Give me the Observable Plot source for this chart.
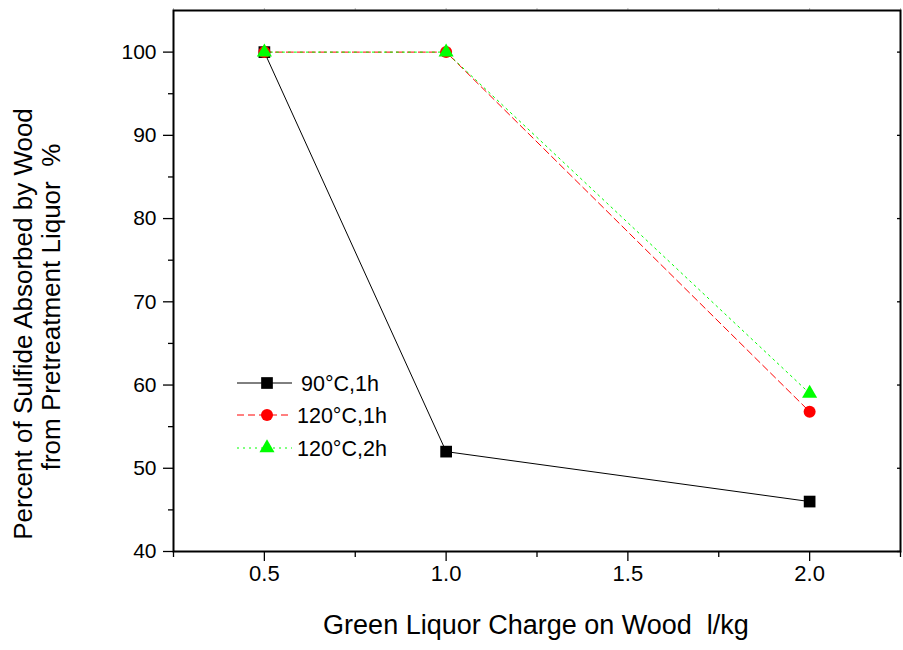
<!DOCTYPE html>
<html><head><meta charset="utf-8">
<script src="https://cdn.jsdelivr.net/npm/d3@7"></script>
<script src="https://cdn.jsdelivr.net/npm/@observablehq/plot@0.6"></script>
<style>
body{margin:0;background:#fff;font-family:"Liberation Sans",Arial,sans-serif}
#chart{position:relative;width:903px;height:650px}
</style>
</head><body><div id="chart"></div>
<script>
const charge = [0.5, 1.0, 2.0];
const s90_1h = [100, 52, 46];
const s120_1h = [100, 100, 56.8];
const s120_2h = [100, 100, 59];
const seriesNames = ["90°C,1h", "120°C,1h", "120°C,2h"];
const seriesColors = ["#000000", "#ff0000", "#00ff00"];
const seriesSymbols = ["square", "circle", "triangle"];
const seriesDash = [null, "7,4", "2,4"];
const xTicks = [0.5, 1.0, 1.5, 2.0];
const xMinor = [0.25, 0.75, 1.25, 1.75, 2.25];
const yTicks = [40, 50, 60, 70, 80, 90, 100];
const yMinor = [45, 55, 65, 75, 85, 95];
const xTitle = "Green Liquor Charge on Wood  l/kg";
const yTitle1 = "Percent of Sulfide Absorbed by Wood";
const yTitle2 = "from Pretreatment Liquor  %";

const seriesValues = [s90_1h, s120_1h, s120_2h];
const series = seriesNames.map((name, k) => charge.map((x, i) => ({x, y: seriesValues[k][i], s: name})));
const symR = [6.6, 6, 5.6];

const marks = [];
series.forEach((rows, k) => {
  marks.push(Plot.line(rows, {x: "x", y: "y", stroke: seriesColors[k], strokeWidth: 1, strokeDasharray: seriesDash[k]}));
});
series.forEach((rows, k) => {
  marks.push(Plot.dot(rows, {x: "x", y: "y", symbol: () => seriesSymbols[k], r: symR[k], fill: seriesColors[k], stroke: "none"}));
});

const chart = Plot.plot({
  width: 903, height: 650,
  marginLeft: 173, marginRight: 3, marginTop: 10, marginBottom: 99,
  style: {fontFamily: "'Liberation Sans', Arial, sans-serif", background: "white", color: "black"},
  symbol: {type: "identity"},
  x: {domain: [0.25, 2.25], label: null},
  y: {domain: [40, 105], label: null},
  marks: [
    Plot.axisX(xTicks, {tickSize: 10, tickFormat: () => "", strokeWidth: 1.3, label: null}),
    Plot.text(xTicks, {x: d => d, frameAnchor: "bottom", dy: 29, fontSize: 22, text: d => d.toFixed(1), fill: "black"}),
    Plot.axisX(xMinor, {tickSize: 6, tickFormat: () => "", strokeWidth: 1.3, label: null}),
    Plot.axisX(xTicks.concat(xMinor), {anchor: "top", tickSize: 3, tickFormat: () => "", stroke: "#bbb", label: null}),
    Plot.axisY(yTicks, {tickSize: 10, tickFormat: () => "", strokeWidth: 1.3, label: null}),
    Plot.text(yTicks, {y: d => d, frameAnchor: "left", dx: -17, textAnchor: "end", fontSize: 21, text: d => String(d), fill: "black"}),
    Plot.axisY(yMinor, {tickSize: 5, tickFormat: () => "", strokeWidth: 1.3, label: null}),
    Plot.axisY(yTicks, {anchor: "right", tickSize: -4, tickFormat: () => "", strokeWidth: 1.3, label: null}),
    ...marks,
    Plot.frame({stroke: "black", strokeWidth: 2})
  ]
});
document.getElementById("chart").appendChild(chart);

const svg = d3.select(chart);
svg.append("text").attr("x", 536).attr("y", 634).attr("text-anchor", "middle")
  .attr("font-size", 27).attr("fill", "black").text(xTitle);
svg.append("text").attr("transform", "translate(32,324) rotate(-90)").attr("text-anchor", "middle")
  .attr("font-size", 26).attr("fill", "black").text(yTitle1);
svg.append("text").attr("transform", "translate(60,307) rotate(-90)").attr("text-anchor", "middle")
  .attr("font-size", 26).attr("fill", "black").attr("xml:space", "preserve").text(yTitle2);

// legend
const legY = [383, 415, 448];
const legTx = [301, 297, 297];
const leg = svg.append("g").attr("text-anchor", "start");
seriesNames.forEach((name, k) => {
  const g = leg.append("g");
  g.append("line").attr("x1", 237).attr("x2", 292).attr("y1", legY[k]).attr("y2", legY[k])
    .attr("stroke", seriesColors[k]).attr("stroke-width", 1).attr("stroke-dasharray", seriesDash[k]);
  const sym = {square: d3.symbolSquare, circle: d3.symbolCircle, triangle: d3.symbolTriangle}[seriesSymbols[k]];
  g.append("path").attr("d", d3.symbol(sym, Math.PI * symR[k] * symR[k])())
    .attr("transform", `translate(267,${legY[k]})`).attr("fill", seriesColors[k]);
  g.append("text").attr("x", legTx[k]).attr("y", legY[k]).attr("dy", "0.36em")
    .attr("text-anchor", "start").attr("font-size", 21.5).attr("fill", "black").text(name);
});
</script>
</body></html>
